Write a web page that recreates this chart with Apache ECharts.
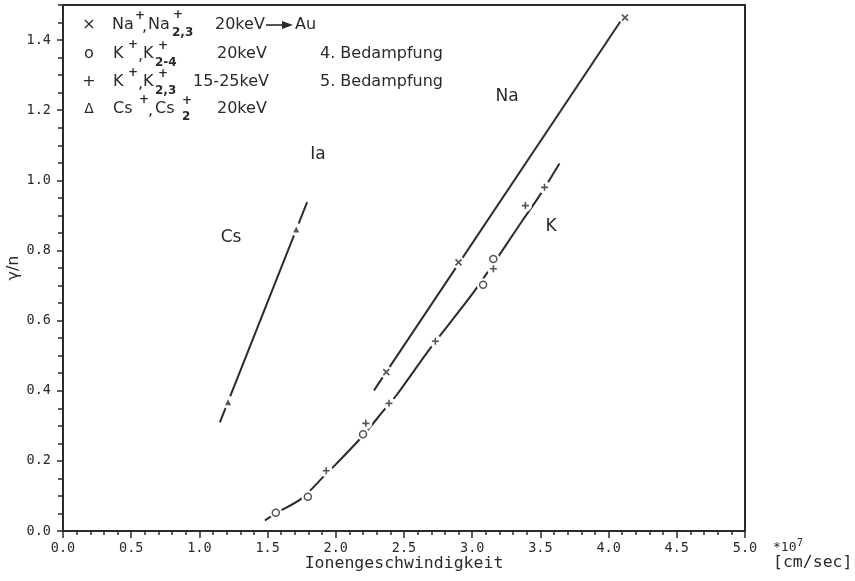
<!DOCTYPE html>
<html>
<head>
<meta charset="utf-8">
<script src="https://cdn.jsdelivr.net/npm/echarts@6/dist/echarts.min.js"></script>
<style>
  html, body { margin: 0; padding: 0; background: #fff; }
  #chart { width: 855px; height: 581px; }
</style>
</head>
<body>
<div id="chart"></div>
<script>
// Ion velocity (10^7 cm/sec) vs. yield gamma/n

// Na+, Na2,3+ 20 keV -> Au (measured points and fitted line)
const naX = [2.37, 2.90, 4.12];
const naY = [0.453, 0.766, 1.464];
const naFitX = [2.28, 4.09];
const naFitY = [0.401, 1.455];

// K+, K2-4+ 20 keV (4. Bedampfung)
const kOpenX = [1.56, 1.795, 2.20, 3.08, 3.155];
const kOpenY = [0.052, 0.098, 0.276, 0.702, 0.776];

// K+, K2,3+ 15-25 keV (5. Bedampfung)
const kPlusX = [1.93, 2.22, 2.39, 2.73, 3.155, 3.39, 3.53];
const kPlusY = [0.172, 0.307, 0.364, 0.541, 0.748, 0.928, 0.980];

// K curve drawn through the data
const kCurveX = [1.48, 1.56, 1.75, 1.91, 2.00, 2.19, 2.36, 2.45, 2.70, 3.02, 3.37, 3.50, 3.64];
const kCurveY = [0.030, 0.050, 0.093, 0.155, 0.190, 0.268, 0.348, 0.390, 0.525, 0.686, 0.886, 0.960, 1.048];

// Cs+, Cs2+ 20 keV
const csX = [1.21, 1.71];
const csY = [0.367, 0.860];
const csFitX = [1.15, 1.79];
const csFitY = [0.310, 0.938];

// Axis ticks
const xMajorTicks = [0, 0.5, 1.0, 1.5, 2.0, 2.5, 3.0, 3.5, 4.0, 4.5, 5.0];
const yMajorTicks = [0, 0.2, 0.4, 0.6, 0.8, 1.0, 1.2, 1.4];

const INK = '#2b2b2b';
const TXT = '#2a2a2a';
const SANS = '"DejaVu Sans", sans-serif';
const MONO = '"DejaVu Sans Mono", monospace';

const zip = (xs, ys) => xs.map((x, i) => [x, ys[i]]);

const allPoints = [].concat(zip(naX, naY), zip(kOpenX, kOpenY), zip(kPlusX, kPlusY), zip(csX, csY));

const CROSS = 'path://M0,0L10,10M10,0L0,10';
const PLUS = 'path://M5,0L5,10M0,5L10,5';

function txt(x, y, text, size, opt) {
  opt = opt || {};
  return {
    type: 'text', x: x, y: y, silent: true, z: 10,
    style: {
      text: text,
      font: (opt.weight || 'normal') + ' ' + size + 'px ' + (opt.family || SANS),
      fill: opt.fill || TXT,
      textAlign: opt.align || 'left',
      textVerticalAlign: 'middle'
    }
  };
}

// Legend block (symbols, ion formulas with charge/sub-indices, energies)
const legendGraphics = [
  // row 1
  txt(89, 25, '×', 16, {align: 'center'}),
  txt(112, 25, 'Na', 16), txt(135, 16, '+', 12, {weight: 'bold'}), txt(142, 27, ',', 16),
  txt(148, 25, 'Na', 16), txt(173, 15, '+', 12, {weight: 'bold'}), txt(172, 33, '2,3', 12, {weight: 'bold'}),
  txt(215, 25, '20keV', 16), txt(295, 25, 'Au', 16),
  {type: 'line', silent: true, z: 10, shape: {x1: 266, y1: 25, x2: 284, y2: 25}, style: {stroke: TXT, lineWidth: 1.6}},
  {type: 'polygon', silent: true, z: 10, shape: {points: [[282, 21], [293, 25], [282, 29]]}, style: {fill: TXT}},
  // row 2
  txt(89, 54, 'o', 16, {align: 'center'}),
  txt(113, 54, 'K', 16), txt(128, 45, '+', 12, {weight: 'bold'}), txt(138, 56, ',', 16),
  txt(143, 54, 'K', 16), txt(158, 46, '+', 12, {weight: 'bold'}), txt(155, 63, '2-4', 12, {weight: 'bold'}),
  txt(217, 54, '20keV', 16), txt(320, 54, '4. Bedampfung', 16),
  // row 3
  txt(89, 82, '+', 16, {align: 'center'}),
  txt(113, 82, 'K', 16), txt(128, 73, '+', 12, {weight: 'bold'}), txt(138, 84, ',', 16),
  txt(143, 82, 'K', 16), txt(158, 74, '+', 12, {weight: 'bold'}), txt(155, 91, '2,3', 12, {weight: 'bold'}),
  txt(193, 82, '15-25keV', 16), txt(320, 82, '5. Bedampfung', 16),
  // row 4
  txt(89, 109, 'Δ', 14, {align: 'center'}),
  txt(113, 109, 'Cs', 16), txt(139, 100, '+', 12, {weight: 'bold'}), txt(148, 111, ',', 16),
  txt(155, 109, 'Cs', 16), txt(182, 101, '+', 12, {weight: 'bold'}), txt(182, 117, '2', 12, {weight: 'bold'}),
  txt(217, 109, '20keV', 16)
];

// Curve labels and unit annotation
const labelGraphics = [
  txt(231, 238, 'Cs', 17, {align: 'center'}),
  txt(318, 155, 'Ia', 17, {align: 'center'}),
  txt(507, 97, 'Na', 17, {align: 'center'}),
  txt(551, 227, 'K', 17, {align: 'center'}),
  txt(773, 548, '*10', 13, {family: MONO}),
  txt(797, 543, '7', 10, {family: MONO}),
  txt(773, 563, '[cm/sec]', 16.5, {family: MONO})
];

const chart = echarts.init(document.getElementById('chart'), null, {renderer: 'canvas'});

const baseAxisLine = {show: true, onZero: false, lineStyle: {color: INK, width: 2}};

chart.setOption({
  animation: false,
  backgroundColor: '#ffffff',
  grid: {
    left: 63, right: 110, top: 5, bottom: 50,
    containLabel: false, outerBoundsMode: 'none',
    show: true, borderColor: INK, borderWidth: 2, backgroundColor: 'transparent'
  },
  xAxis: [
    {
      type: 'value', min: xMajorTicks[0], max: xMajorTicks[xMajorTicks.length - 1], interval: 0.5,
      position: 'bottom',
      axisLine: baseAxisLine,
      axisTick: {show: true, length: 7, lineStyle: {color: INK, width: 1.5}},
      axisLabel: {margin: 10, fontFamily: MONO, fontSize: 13.5, color: TXT, formatter: v => v.toFixed(1)},
      splitLine: {show: false},
      name: 'Ionengeschwindigkeit', nameLocation: 'middle', nameGap: 24, nameMoveOverlap: false,
      nameTextStyle: {fontFamily: MONO, fontSize: 16.5, color: TXT}
    },
    {
      type: 'value', min: 0, max: 5, interval: 0.1, position: 'bottom',
      axisLine: {show: false},
      axisTick: {show: true, length: 4, lineStyle: {color: INK, width: 1.5}},
      axisLabel: {show: false}, splitLine: {show: false}
    }
  ],
  yAxis: [
    {
      type: 'value', min: yMajorTicks[0], max: 1.5, interval: 0.2,
      position: 'left',
      axisLine: baseAxisLine,
      axisTick: {show: true, length: 6, lineStyle: {color: INK, width: 1.5}},
      axisLabel: {margin: 12, fontFamily: MONO, fontSize: 13.5, color: TXT, showMaxLabel: false,
                  formatter: v => v.toFixed(1)},
      splitLine: {show: false},
      name: 'γ/n', nameLocation: 'middle', nameGap: 41, nameRotate: 90, nameMoveOverlap: false,
      nameTextStyle: {fontFamily: SANS, fontSize: 16, color: TXT}
    },
    {
      type: 'value', min: 0, max: 1.5, interval: 0.05, position: 'left',
      axisLine: {show: false},
      axisTick: {show: true, length: 5, lineStyle: {color: INK, width: 1.5}},
      axisLabel: {show: false}, splitLine: {show: false}
    }
  ],
  series: [
    {
      name: 'Cs fit', type: 'line', data: zip(csFitX, csFitY), symbol: 'none', z: 2,
      lineStyle: {color: INK, width: 2}
    },
    {
      name: 'Na fit', type: 'line', data: zip(naFitX, naFitY), symbol: 'none', z: 2,
      lineStyle: {color: INK, width: 2}
    },
    {
      name: 'K curve', type: 'line', data: zip(kCurveX, kCurveY), symbol: 'none', smooth: 0.3, z: 2,
      lineStyle: {color: INK, width: 2}
    },
    {
      // white halos on their own layer, opening the lines around each marker
      name: 'halo', type: 'scatter', data: allPoints, symbol: 'circle', symbolSize: 12,
      zlevel: 1, z: 3, silent: true,
      itemStyle: {color: '#ffffff', borderColor: '#ffffff', borderWidth: 1, opacity: 1}
    },
    {
      name: 'Na', type: 'scatter', data: zip(naX, naY), symbol: CROSS, symbolSize: 6, zlevel: 2, z: 4,
      itemStyle: {color: 'none', borderColor: INK, borderWidth: 1.6}
    },
    {
      name: 'K 4. Bedampfung', type: 'scatter', data: zip(kOpenX, kOpenY), symbol: 'circle', symbolSize: 7,
      zlevel: 2, z: 4,
      itemStyle: {color: '#ffffff', borderColor: INK, borderWidth: 1.5}
    },
    {
      name: 'K 5. Bedampfung', type: 'scatter', data: zip(kPlusX, kPlusY), symbol: PLUS, symbolSize: 7,
      zlevel: 2, z: 5,
      itemStyle: {color: 'none', borderColor: INK, borderWidth: 1.6}
    },
    {
      name: 'Cs', type: 'scatter', data: zip(csX, csY), symbol: 'triangle', symbolSize: 6, zlevel: 2, z: 4,
      itemStyle: {color: INK}
    }
  ],
  graphic: legendGraphics.concat(labelGraphics)
});
</script>
</body>
</html>
